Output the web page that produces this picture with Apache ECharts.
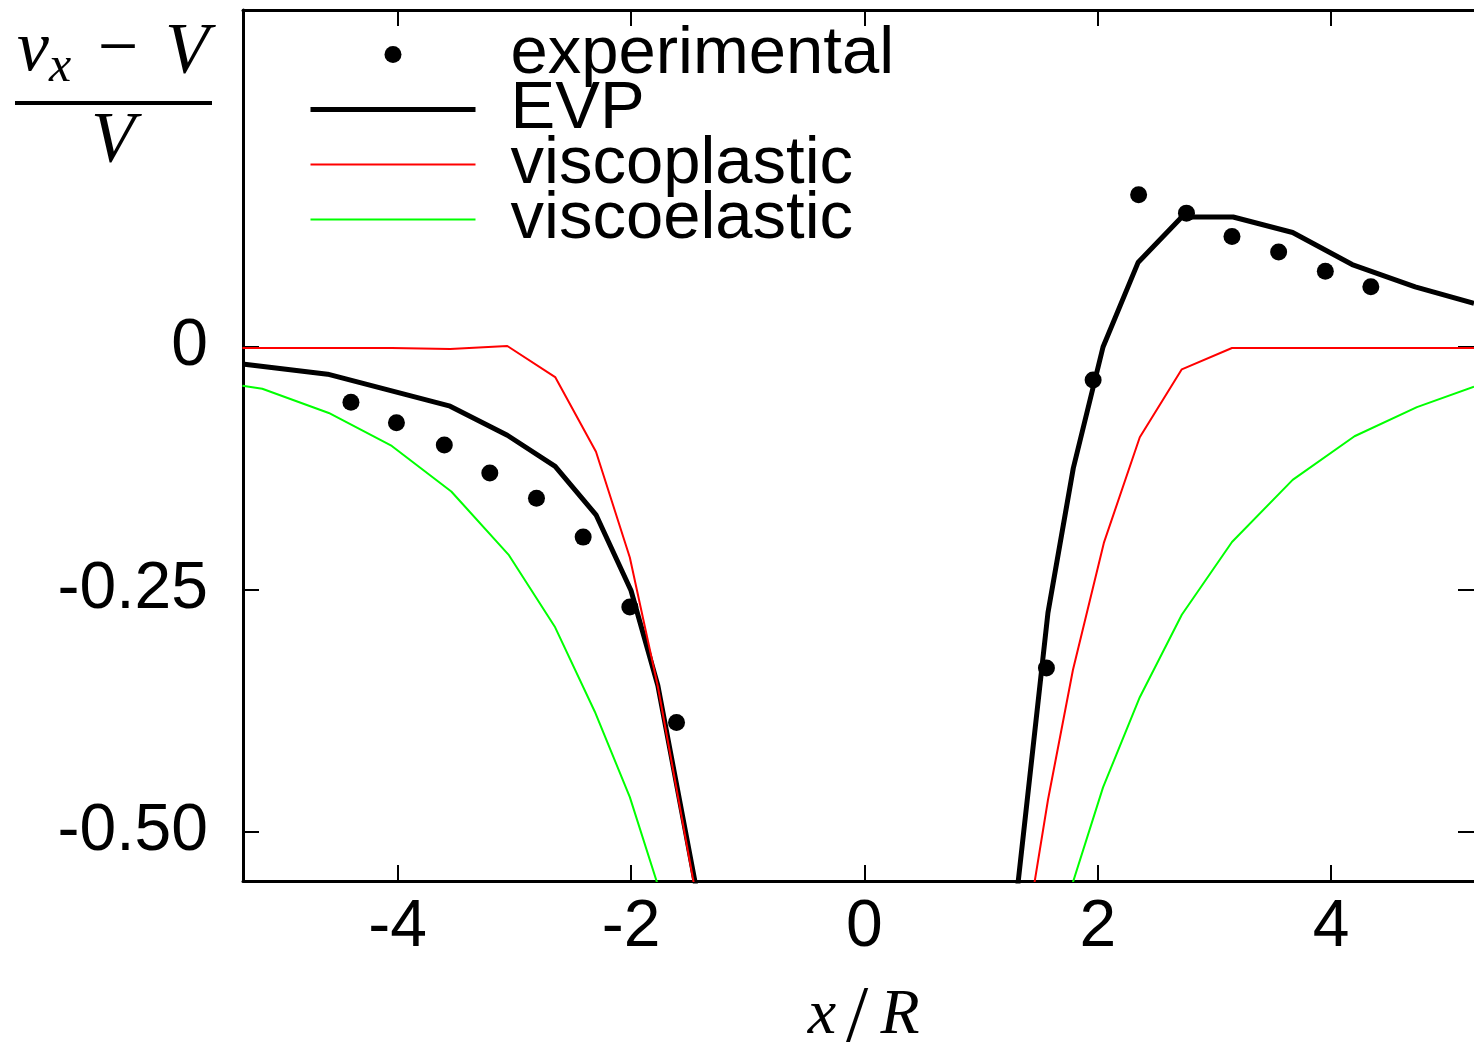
<!DOCTYPE html>
<html>
<head>
<meta charset="utf-8">
<script src="https://cdn.jsdelivr.net/npm/echarts@6/dist/echarts.min.js"></script>
<style>
	html, body { margin: 0; padding: 0; background: #fff; }
	#chart { width: 1474px; height: 1058px; }
</style>
</head>
<body>
<div id="chart"></div>
<script>
// tick positions and labels
const xTicks = [-4, -2, 0, 2, 4];
const yTicks = [-0.5, -0.25, 0];
const yTickLabels = ["-0.50", "-0.25", "0"];

// experimental points
const expX = [-4.40, -4.01, -3.60, -3.21, -2.81, -2.41, -2.01, -1.61, 1.56, 1.96, 2.35, 2.76, 3.15, 3.55, 3.95, 4.34];
const expY = [-0.057, -0.078, -0.101, -0.130, -0.156, -0.196, -0.268, -0.387, -0.331, -0.034, 0.157, 0.138, 0.114, 0.098, 0.078, 0.062];

// EVP model
const evpX = [-5.33, -4.60, -3.55, -3.06, -2.65, -2.30, -2.00, -1.77, -1.375, 1.273, 1.573, 1.79, 2.045, 2.345, 2.72, 3.16, 3.67, 4.18, 4.72, 5.224];
const evpY = [-0.0175, -0.028, -0.061, -0.091, -0.123, -0.173, -0.251, -0.349, -0.60, -0.60, -0.274, -0.125, 0.0, 0.087, 0.134, 0.134, 0.118, 0.085, 0.062, 0.045];

// viscoplastic model
const plasticX = [-5.33, -4.05, -3.55, -3.06, -2.65, -2.30, -2.01, -1.77, -1.39, 1.393, 1.573, 1.787, 2.052, 2.36, 2.72, 3.15, 5.224];
const plasticY = [-0.001, -0.001, -0.002, 0.001, -0.031, -0.108, -0.217, -0.350, -0.60, -0.60, -0.467, -0.333, -0.202, -0.093, -0.023, -0.001, -0.001];

// viscoelastic model
const elasticX = [-5.33, -5.16, -4.59, -4.05, -3.54, -3.05, -2.65, -2.31, -2.01, -1.65, 1.66, 2.045, 2.36, 2.72, 3.15, 3.67, 4.20, 4.735, 5.224];
const elasticY = [-0.040, -0.043, -0.068, -0.102, -0.149, -0.214, -0.289, -0.376, -0.464, -0.60, -0.60, -0.454, -0.361, -0.276, -0.201, -0.137, -0.092, -0.062, -0.041];

const zip = (xs, ys) => xs.map((x, i) => [x, ys[i]]);

const sansFont = "Liberation Sans";
const mathFont = '"Liberation Serif"';

const chart = echarts.init(document.getElementById("chart"));

const tickStyle = {
	show: true,
	inside: true,
	length: 16,
	lineStyle: {color: "#000", width: 2}
};

const option = {
	animation: false,
	backgroundColor: "#fff",
	grid: {left: 243, top: 10, right: 0, bottom: 177},
	legend: {
		orient: "vertical",
		left: 303,
		top: 16,
		itemWidth: 165,
		itemHeight: 17,
		itemGap: -12,
		selectedMode: false,
		lineStyle: {width: "inherit"},
		textStyle: {
			fontFamily: sansFont,
			fontSize: 67,
			color: "#000",
			padding: [0, 0, 0, 30]
		},
		data: [
			"experimental",
			{name: "EVP", itemStyle: {opacity: 0}},
			{name: "viscoplastic", itemStyle: {opacity: 0}},
			{name: "viscoelastic", itemStyle: {opacity: 0}}
		]
	},
	xAxis: [{
		type: "value",
		position: "bottom",
		min: -5.325,
		max: 5.224,
		axisLine: {show: true, onZero: false, lineStyle: {color: "#000", width: 3}},
		axisTick: Object.assign({customValues: xTicks}, tickStyle),
		axisLabel: {
			customValues: xTicks,
			fontFamily: sansFont,
			fontSize: 66,
			color: "#000",
			margin: 14
		},
		splitLine: {show: false}
	}, {
		type: "value",
		position: "top",
		min: -5.325,
		max: 5.224,
		axisLine: {show: true, onZero: false, lineStyle: {color: "#000", width: 3}},
		axisTick: Object.assign({customValues: xTicks}, tickStyle),
		axisLabel: {show: false},
		splitLine: {show: false}
	}],
	yAxis: [{
		type: "value",
		position: "left",
		min: -0.5505,
		max: 0.3474,
		axisLine: {show: true, onZero: false, lineStyle: {color: "#000", width: 3}},
		axisTick: Object.assign({customValues: yTicks}, tickStyle),
		axisLabel: {
			customValues: yTicks,
			formatter: (v) => yTickLabels[yTicks.indexOf(v)],
			fontFamily: sansFont,
			fontSize: 66,
			color: "#000",
			margin: 35
		},
		splitLine: {show: false}
	}, {
		type: "value",
		position: "right",
		min: -0.5505,
		max: 0.3474,
		axisLine: {show: false, onZero: false},
		axisTick: Object.assign({customValues: yTicks}, tickStyle),
		axisLabel: {show: false},
		splitLine: {show: false}
	}],
	series: [{
		name: "experimental",
		type: "scatter",
		symbol: "circle",
		symbolSize: 17,
		itemStyle: {color: "#000", opacity: 1},
		data: zip(expX, expY)
	}, {
		name: "EVP",
		type: "line",
		symbol: "none",
		lineStyle: {color: "#000", width: 5},
		itemStyle: {color: "#000"},
		data: zip(evpX, evpY)
	}, {
		name: "viscoplastic",
		type: "line",
		symbol: "none",
		lineStyle: {color: "#ff0000", width: 2},
		itemStyle: {color: "#ff0000"},
		data: zip(plasticX, plasticY)
	}, {
		name: "viscoelastic",
		type: "line",
		symbol: "none",
		lineStyle: {color: "#00ff00", width: 2},
		itemStyle: {color: "#00ff00"},
		data: zip(elasticX, elasticY)
	}],
	graphic: [
		// y axis title: (v_x - V) / V
		{type: "text", style: {text: "v", x: 33, y: 51, font: "italic 72px " + mathFont, fill: "#000", align: "center", verticalAlign: "middle"}},
		{type: "text", style: {text: "x", x: 60, y: 68, font: "italic 50px " + mathFont, fill: "#000", align: "center", verticalAlign: "middle"}},
		{type: "text", style: {text: "\u2212", x: 118, y: 51, font: "72px " + mathFont, fill: "#000", align: "center", verticalAlign: "middle"}},
		{type: "text", style: {text: "V", x: 187, y: 53, font: "italic 72px " + mathFont, fill: "#000", align: "center", verticalAlign: "middle"}},
		{type: "rect", shape: {x: 15, y: 101, width: 197, height: 4}, style: {fill: "#000"}},
		{type: "text", style: {text: "V", x: 113, y: 142, font: "italic 72px " + mathFont, fill: "#000", align: "center", verticalAlign: "middle"}},
		// x axis title: x/R
		{type: "text", style: {text: "x", x: 822, y: 1016, font: "italic 64px " + mathFont, fill: "#000", align: "center", verticalAlign: "middle"}},
		{type: "text", style: {text: "/", x: 857, y: 1020, font: "80px " + mathFont, fill: "#000", align: "center", verticalAlign: "middle"}},
		{type: "text", style: {text: "R", x: 900, y: 1016, font: "italic 64px " + mathFont, fill: "#000", align: "center", verticalAlign: "middle"}}
	]
};

option && chart.setOption(option);
</script>
</body>
</html>
